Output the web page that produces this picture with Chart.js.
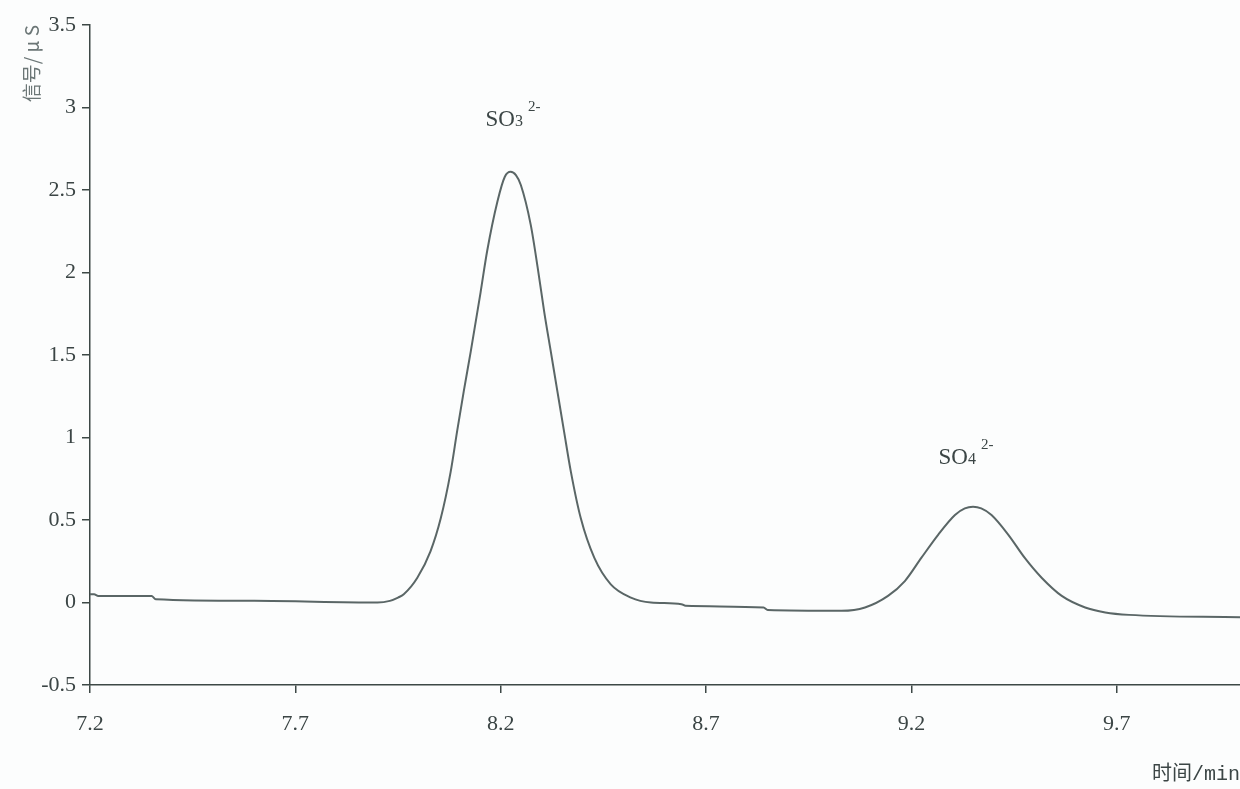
<!DOCTYPE html>
<html>
<head>
<meta charset="utf-8">
<script src="https://cdn.jsdelivr.net/npm/chart.js@4.4.1/dist/chart.umd.min.js"></script>
<style>
  html, body { margin: 0; padding: 0; background: #fcfdfd; }
  canvas { display: block; }
</style>
</head>
<body>
<canvas id="chromChart" width="1240" height="789"></canvas>
<script>
// retention time (min) and conductivity signal (µS)
const timeMin = [7.2, 7.21, 7.22, 7.35, 7.36, 7.6, 7.9, 7.93, 7.95, 7.964, 7.997, 8.029, 8.054, 8.078, 8.094, 8.11, 8.127, 8.151, 8.167, 8.192, 8.21, 8.224, 8.237, 8.249, 8.273, 8.29, 8.306, 8.322, 8.338, 8.354, 8.371, 8.395, 8.428, 8.468, 8.517, 8.566, 8.64, 8.65, 8.84, 8.85, 9.03, 9.087, 9.143, 9.184, 9.224, 9.265, 9.306, 9.33, 9.35, 9.37, 9.395, 9.436, 9.476, 9.517, 9.566, 9.623, 9.672, 9.73, 10.0];
const signal = [0.05, 0.05, 0.04, 0.04, 0.02, 0.01, 0.0, 0.01, 0.03, 0.05, 0.15, 0.31, 0.51, 0.79, 1.04, 1.28, 1.52, 1.88, 2.13, 2.43, 2.58, 2.61, 2.59, 2.53, 2.29, 2.03, 1.76, 1.52, 1.28, 1.04, 0.79, 0.51, 0.27, 0.11, 0.03, 0.0, -0.01, -0.02, -0.03, -0.045, -0.05, -0.03, 0.04, 0.13, 0.27, 0.41, 0.53, 0.57, 0.58, 0.57, 0.53, 0.41, 0.27, 0.15, 0.04, -0.03, -0.06, -0.075, -0.09];

const xTicks = [7.2, 7.7, 8.2, 8.7, 9.2, 9.7];
const yTicks = [-0.5, 0, 0.5, 1, 1.5, 2, 2.5, 3, 3.5];

// peak labels: ion name, subscript, superscript, anchor (time, signal)
const peakNames = ['SO', 'SO'];
const peakSub = ['3', '4'];
const peakSup = ['2-', '2-'];
const peakX = [8.163, 9.266];
const peakY = [2.885, 0.842];

const axisColor = '#3d4846';
const textColor = '#3b4545';

const peakLabels = {
  id: 'peakLabels',
  afterDatasetsDraw(chart) {
    const ctx = chart.ctx;
    const xs = chart.scales.x, ys = chart.scales.y;
    ctx.save();
    ctx.fillStyle = textColor;
    ctx.textBaseline = 'alphabetic';
    ctx.textAlign = 'left';
    peakNames.forEach((name, i) => {
      let px = xs.getPixelForValue(peakX[i]);
      const py = ys.getPixelForValue(peakY[i]);
      ctx.font = '23px "Liberation Serif"';
      ctx.fillText(name, px, py);
      px += ctx.measureText(name).width;
      ctx.font = '16px "Liberation Serif"';
      ctx.fillText(peakSub[i], px, py);
      px += ctx.measureText(peakSub[i]).width + 5;
      ctx.font = '15px "Liberation Serif"';
      ctx.fillText(peakSup[i], px, py - 15);
    });
    ctx.restore();
  }
};

window.onload = () => {
  const points = timeMin.map((t, i) => ({x: t, y: signal[i]}));
  new Chart(document.getElementById('chromChart'), {
    type: 'line',
    data: {
      datasets: [{
        data: points,
        borderColor: '#5a6666',
        borderWidth: 2,
        pointRadius: 0,
        fill: false,
        cubicInterpolationMode: 'monotone'
      }]
    },
    options: {
      responsive: false,
      animation: false,
      devicePixelRatio: 1,
      parsing: false,
      layout: { padding: { top: 25, right: 0, left: 0, bottom: 0 } },
      plugins: {
        legend: { display: false },
        tooltip: { enabled: false }
      },
      scales: {
        x: {
          type: 'linear',
          min: 7.2,
          max: 10.0,
          afterBuildTicks: axis => { axis.ticks = xTicks.map(v => ({value: v})); },
          afterFit: scale => { scale.height = 104; },
          border: { display: true, color: axisColor, width: 1.5 },
          grid: { drawOnChartArea: false, drawTicks: true, tickLength: 8, color: axisColor, lineWidth: 1.5 },
          ticks: {
            color: textColor,
            padding: 18,
            maxRotation: 0,
            font: { family: '"Liberation Serif"', size: 22 },
            callback: v => String(v)
          },
          title: {
            display: true,
            text: '时间/min',
            align: 'end',
            color: textColor,
            padding: { top: 0, bottom: 2 },
            font: { family: '"Liberation Mono", "Noto Sans CJK SC"', size: 20 }
          }
        },
        y: {
          type: 'linear',
          min: -0.5,
          max: 3.5,
          afterBuildTicks: axis => { axis.ticks = yTicks.map(v => ({value: v})); },
          afterFit: scale => { scale.width = 90; },
          border: { display: true, color: axisColor, width: 1.5 },
          grid: { drawOnChartArea: false, drawTicks: true, tickLength: 8, color: axisColor, lineWidth: 1.5 },
          ticks: {
            color: textColor,
            padding: 6,
            font: { family: '"Liberation Serif"', size: 22 },
            callback: v => String(v)
          },
          title: {
            display: true,
            text: '信号/ μ S',
            align: 'end',
            color: '#6b7676',
            padding: { top: 20, bottom: 0 },
            font: { family: '"Noto Sans CJK SC"', size: 19 }
          }
        }
      }
    },
    plugins: [peakLabels]
  });
};
</script>
</body>
</html>
